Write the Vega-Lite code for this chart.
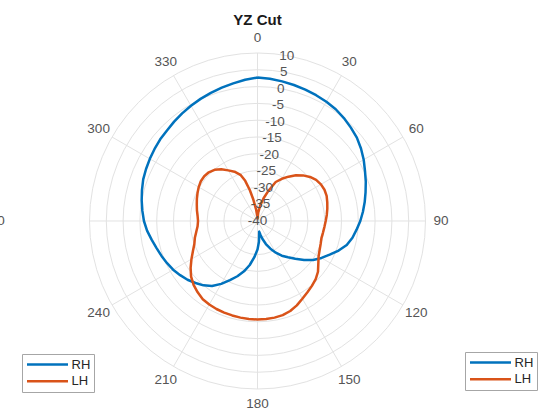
{
  "$schema": "https://vega.github.io/schema/vega-lite/v6.json",
  "width": 541,
  "height": 414,
  "autosize": "none",
  "padding": 0,
  "background": "white",
  "config": {
    "view": {"stroke": null},
    "font": "Liberation Sans",
    "legend": {
      "title": null,
      "symbolType": "stroke",
      "symbolSize": 1681,
      "symbolStrokeWidth": 2.5,
      "clipHeight": 14,
      "rowPadding": 2.7,
      "padding": 3.5,
      "labelOffset": 2,
      "labelFont": "Liberation Sans",
      "labelFontSize": 13,
      "labelColor": "#262626",
      "strokeColor": "#a6a6a6",
      "fillColor": "white",
      "cornerRadius": 0
    }
  },
  "datasets": {
    "pattern": [
      {"series": "RH", "angle": 0, "dB": 2.7}, {"series": "RH", "angle": 5, "dB": 2.5}, {"series": "RH", "angle": 10, "dB": 2.2}, {"series": "RH", "angle": 15, "dB": 1.9}, {"series": "RH", "angle": 20, "dB": 1.6}, {"series": "RH", "angle": 25, "dB": 1.3}, {"series": "RH", "angle": 30, "dB": 1.0}, {"series": "RH", "angle": 35, "dB": 0.6}, {"series": "RH", "angle": 40, "dB": 0.0}, {"series": "RH", "angle": 45, "dB": -0.7}, {"series": "RH", "angle": 50, "dB": -1.4}, {"series": "RH", "angle": 55, "dB": -2.4}, {"series": "RH", "angle": 60, "dB": -3.5}, {"series": "RH", "angle": 65, "dB": -4.7}, {"series": "RH", "angle": 70, "dB": -5.7}, {"series": "RH", "angle": 75, "dB": -6.7}, {"series": "RH", "angle": 80, "dB": -7.6}, {"series": "RH", "angle": 85, "dB": -8.5}, {"series": "RH", "angle": 90, "dB": -9.4}, {"series": "RH", "angle": 95, "dB": -10.4}, {"series": "RH", "angle": 100, "dB": -11.3}, {"series": "RH", "angle": 105, "dB": -12.5}, {"series": "RH", "angle": 110, "dB": -14.3}, {"series": "RH", "angle": 115, "dB": -16.3}, {"series": "RH", "angle": 120, "dB": -18.0}, {"series": "RH", "angle": 125, "dB": -19.8}, {"series": "RH", "angle": 130, "dB": -21.9}, {"series": "RH", "angle": 135, "dB": -24.1}, {"series": "RH", "angle": 140, "dB": -25.9}, {"series": "RH", "angle": 145, "dB": -27.4}, {"series": "RH", "angle": 150, "dB": -29.1}, {"series": "RH", "angle": 155, "dB": -30.9}, {"series": "RH", "angle": 160, "dB": -32.7}, {"series": "RH", "angle": 165, "dB": -34.6}, {"series": "RH", "angle": 168, "dB": -35.8}, {"series": "RH", "angle": 171, "dB": -36.8}, {"series": "RH", "angle": 173, "dB": -36.0}, {"series": "RH", "angle": 176, "dB": -33.8}, {"series": "RH", "angle": 180, "dB": -31.5}, {"series": "RH", "angle": 185, "dB": -29.2}, {"series": "RH", "angle": 190, "dB": -26.7}, {"series": "RH", "angle": 195, "dB": -24.5}, {"series": "RH", "angle": 200, "dB": -22.5}, {"series": "RH", "angle": 205, "dB": -20.6}, {"series": "RH", "angle": 210, "dB": -18.4}, {"series": "RH", "angle": 215, "dB": -16.4}, {"series": "RH", "angle": 220, "dB": -15.0}, {"series": "RH", "angle": 225, "dB": -13.9}, {"series": "RH", "angle": 230, "dB": -12.8}, {"series": "RH", "angle": 235, "dB": -11.9}, {"series": "RH", "angle": 240, "dB": -11.0}, {"series": "RH", "angle": 245, "dB": -10.3}, {"series": "RH", "angle": 250, "dB": -9.6}, {"series": "RH", "angle": 255, "dB": -8.9}, {"series": "RH", "angle": 260, "dB": -8.0}, {"series": "RH", "angle": 265, "dB": -7.0}, {"series": "RH", "angle": 270, "dB": -6.2}, {"series": "RH", "angle": 275, "dB": -5.6}, {"series": "RH", "angle": 280, "dB": -5.0}, {"series": "RH", "angle": 285, "dB": -4.4}, {"series": "RH", "angle": 290, "dB": -3.8}, {"series": "RH", "angle": 295, "dB": -3.4}, {"series": "RH", "angle": 300, "dB": -3.0}, {"series": "RH", "angle": 305, "dB": -2.6}, {"series": "RH", "angle": 310, "dB": -2.2}, {"series": "RH", "angle": 315, "dB": -1.9}, {"series": "RH", "angle": 320, "dB": -1.4}, {"series": "RH", "angle": 325, "dB": -0.9}, {"series": "RH", "angle": 330, "dB": -0.4}, {"series": "RH", "angle": 335, "dB": 0.1}, {"series": "RH", "angle": 340, "dB": 0.6}, {"series": "RH", "angle": 345, "dB": 1.1}, {"series": "RH", "angle": 350, "dB": 1.6}, {"series": "RH", "angle": 355, "dB": 2.2}, {"series": "RH", "angle": 360, "dB": 2.7},
      {"series": "LH", "angle": 0, "dB": -39.5}, {"series": "LH", "angle": 5, "dB": -37.5}, {"series": "LH", "angle": 10, "dB": -35.3}, {"series": "LH", "angle": 15, "dB": -33.0}, {"series": "LH", "angle": 20, "dB": -30.4}, {"series": "LH", "angle": 25, "dB": -27.2}, {"series": "LH", "angle": 30, "dB": -25.5}, {"series": "LH", "angle": 35, "dB": -23.9}, {"series": "LH", "angle": 40, "dB": -22.2}, {"series": "LH", "angle": 45, "dB": -20.8}, {"series": "LH", "angle": 50, "dB": -19.6}, {"series": "LH", "angle": 55, "dB": -18.7}, {"series": "LH", "angle": 60, "dB": -18.2}, {"series": "LH", "angle": 65, "dB": -18.0}, {"series": "LH", "angle": 70, "dB": -18.1}, {"series": "LH", "angle": 75, "dB": -18.5}, {"series": "LH", "angle": 80, "dB": -18.9}, {"series": "LH", "angle": 85, "dB": -19.3}, {"series": "LH", "angle": 90, "dB": -19.7}, {"series": "LH", "angle": 95, "dB": -20.0}, {"series": "LH", "angle": 100, "dB": -20.2}, {"series": "LH", "angle": 105, "dB": -20.3}, {"series": "LH", "angle": 110, "dB": -20.0}, {"series": "LH", "angle": 115, "dB": -19.6}, {"series": "LH", "angle": 120, "dB": -19.0}, {"series": "LH", "angle": 125, "dB": -17.9}, {"series": "LH", "angle": 130, "dB": -16.5}, {"series": "LH", "angle": 135, "dB": -15.5}, {"series": "LH", "angle": 140, "dB": -14.8}, {"series": "LH", "angle": 145, "dB": -14.1}, {"series": "LH", "angle": 150, "dB": -13.3}, {"series": "LH", "angle": 155, "dB": -12.3}, {"series": "LH", "angle": 160, "dB": -11.5}, {"series": "LH", "angle": 165, "dB": -11.0}, {"series": "LH", "angle": 170, "dB": -10.8}, {"series": "LH", "angle": 175, "dB": -10.7}, {"series": "LH", "angle": 180, "dB": -10.7}, {"series": "LH", "angle": 185, "dB": -10.7}, {"series": "LH", "angle": 190, "dB": -10.8}, {"series": "LH", "angle": 195, "dB": -10.9}, {"series": "LH", "angle": 200, "dB": -11.0}, {"series": "LH", "angle": 205, "dB": -11.1}, {"series": "LH", "angle": 210, "dB": -11.3}, {"series": "LH", "angle": 215, "dB": -11.6}, {"series": "LH", "angle": 220, "dB": -12.3}, {"series": "LH", "angle": 225, "dB": -13.1}, {"series": "LH", "angle": 230, "dB": -14.2}, {"series": "LH", "angle": 235, "dB": -15.7}, {"series": "LH", "angle": 240, "dB": -17.3}, {"series": "LH", "angle": 245, "dB": -18.8}, {"series": "LH", "angle": 250, "dB": -20.0}, {"series": "LH", "angle": 255, "dB": -20.7}, {"series": "LH", "angle": 260, "dB": -21.5}, {"series": "LH", "angle": 265, "dB": -22.1}, {"series": "LH", "angle": 270, "dB": -22.3}, {"series": "LH", "angle": 275, "dB": -22.1}, {"series": "LH", "angle": 280, "dB": -21.7}, {"series": "LH", "angle": 285, "dB": -21.3}, {"series": "LH", "angle": 290, "dB": -20.8}, {"series": "LH", "angle": 295, "dB": -20.3}, {"series": "LH", "angle": 300, "dB": -19.8}, {"series": "LH", "angle": 305, "dB": -19.4}, {"series": "LH", "angle": 310, "dB": -19.3}, {"series": "LH", "angle": 315, "dB": -19.5}, {"series": "LH", "angle": 320, "dB": -20.1}, {"series": "LH", "angle": 325, "dB": -21.2}, {"series": "LH", "angle": 330, "dB": -22.6}, {"series": "LH", "angle": 335, "dB": -23.8}, {"series": "LH", "angle": 340, "dB": -25.5}, {"series": "LH", "angle": 343, "dB": -27.5}, {"series": "LH", "angle": 346, "dB": -30.5}, {"series": "LH", "angle": 349, "dB": -33.5}, {"series": "LH", "angle": 353, "dB": -36.5}, {"series": "LH", "angle": 357, "dB": -38.5}, {"series": "LH", "angle": 360, "dB": -39.5}
    ],
    "levels": [
      {"level": -40}, {"level": -35}, {"level": -30}, {"level": -25}, {"level": -20}, {"level": -15}, {"level": -10}, {"level": -5}, {"level": 0}, {"level": 5}, {"level": 10}
    ],
    "spokes": [
      {"angle": 0}, {"angle": 30}, {"angle": 60}, {"angle": 90}, {"angle": 120}, {"angle": 150}, {"angle": 180}, {"angle": 210}, {"angle": 240}, {"angle": 270}, {"angle": 300}, {"angle": 330}
    ],
    "titles": [{"text": "YZ Cut"}]
  },
  "layer": [
    {
      "data": {"name": "levels"},
      "transform": [
        {"filter": "datum.level > -40"},
        {"calculate": "datum.level + 40", "as": "r"},
        {"calculate": "0", "as": "cx"},
        {"calculate": "0", "as": "cy"}
      ],
      "mark": {"type": "point", "shape": "circle", "filled": false, "stroke": "#e2e2e2", "strokeWidth": 1, "opacity": 1},
      "encoding": {
        "x": {"field": "cx", "type": "quantitative", "scale": {"domain": [-76.64, 84.38], "nice": false, "zero": false}, "axis": null},
        "y": {"field": "cy", "type": "quantitative", "scale": {"domain": [-57.44, 65.77], "nice": false, "zero": false}, "axis": null},
        "size": {"field": "r", "type": "quantitative", "scale": {"type": "pow", "exponent": 2, "domain": [0, 50], "range": [0, 112896], "zero": true, "nice": false}, "legend": null}
      }
    },
    {
      "data": {"name": "spokes"},
      "transform": [
        {"calculate": "0", "as": "cx"},
        {"calculate": "0", "as": "cy"},
        {"calculate": "50 * sin(datum.angle * PI / 180)", "as": "xe"},
        {"calculate": "50 * cos(datum.angle * PI / 180)", "as": "ye"}
      ],
      "mark": {"type": "rule", "stroke": "#e2e2e2", "strokeWidth": 1},
      "encoding": {
        "x": {"field": "cx", "type": "quantitative", "scale": {"domain": [-76.64, 84.38], "nice": false, "zero": false}, "axis": null},
        "y": {"field": "cy", "type": "quantitative", "scale": {"domain": [-57.44, 65.77], "nice": false, "zero": false}, "axis": null},
        "x2": {"field": "xe"},
        "y2": {"field": "ye"}
      }
    },
    {
      "data": {"name": "pattern"},
      "transform": [
        {"calculate": "(datum.dB + 40) * sin(datum.angle * PI / 180)", "as": "px"},
        {"calculate": "(datum.dB + 40) * cos(datum.angle * PI / 180)", "as": "py"}
      ],
      "mark": {"type": "line", "strokeWidth": 2.5, "strokeJoin": "round"},
      "encoding": {
        "x": {"field": "px", "type": "quantitative", "scale": {"domain": [-76.64, 84.38], "nice": false, "zero": false}, "axis": null},
        "y": {"field": "py", "type": "quantitative", "scale": {"domain": [-57.44, 65.77], "nice": false, "zero": false}, "axis": null},
        "order": {"field": "angle", "type": "quantitative"},
        "color": {
          "field": "series", "type": "nominal",
          "scale": {"domain": ["RH", "LH"], "range": ["#0072BD", "#D95319"]},
          "legend": {"orient": "bottom-left", "offset": 22}
        }
      }
    },
    {
      "data": {"name": "pattern"},
      "transform": [
        {"filter": "datum.series == 'none'"},
        {"calculate": "(datum.dB + 40) * sin(datum.angle * PI / 180)", "as": "px"},
        {"calculate": "(datum.dB + 40) * cos(datum.angle * PI / 180)", "as": "py"}
      ],
      "mark": {"type": "line", "strokeWidth": 2.5},
      "encoding": {
        "x": {"field": "px", "type": "quantitative", "scale": {"domain": [-76.64, 84.38], "nice": false, "zero": false}, "axis": null},
        "y": {"field": "py", "type": "quantitative", "scale": {"domain": [-57.44, 65.77], "nice": false, "zero": false}, "axis": null},
        "stroke": {
          "field": "series", "type": "nominal",
          "scale": {"domain": ["RH", "LH"], "range": ["#0072BD", "#D95319"]},
          "legend": {"orient": "none", "legendX": 465, "legendY": 352}
        }
      }
    },
    {
      "data": {"name": "levels"},
      "transform": [
        {"calculate": "(datum.level + 40) * sin(10 * PI / 180)", "as": "px"},
        {"calculate": "(datum.level + 40) * cos(10 * PI / 180)", "as": "py"},
        {"calculate": "'' + datum.level", "as": "label"}
      ],
      "mark": {"type": "text", "align": "center", "baseline": "middle", "fontSize": 13.5, "font": "Liberation Sans", "fill": "#555555"},
      "encoding": {
        "x": {"field": "px", "type": "quantitative", "scale": {"domain": [-76.64, 84.38], "nice": false, "zero": false}, "axis": null},
        "y": {"field": "py", "type": "quantitative", "scale": {"domain": [-57.44, 65.77], "nice": false, "zero": false}, "axis": null},
        "text": {"field": "label", "type": "nominal"}
      }
    },
    {
      "data": {"name": "spokes"},
      "transform": [
        {"calculate": "datum.angle == 270 ? 78.6 : 54.6", "as": "lr"},
        {"calculate": "datum.lr * sin(datum.angle * PI / 180)", "as": "px"},
        {"calculate": "datum.lr * cos(datum.angle * PI / 180)", "as": "py"},
        {"calculate": "'' + datum.angle", "as": "label"}
      ],
      "mark": {"type": "text", "align": "center", "baseline": "middle", "fontSize": 13.5, "font": "Liberation Sans", "fill": "#555555"},
      "encoding": {
        "x": {"field": "px", "type": "quantitative", "scale": {"domain": [-76.64, 84.38], "nice": false, "zero": false}, "axis": null},
        "y": {"field": "py", "type": "quantitative", "scale": {"domain": [-57.44, 65.77], "nice": false, "zero": false}, "axis": null},
        "text": {"field": "label", "type": "nominal"}
      }
    },
    {
      "data": {"name": "titles"},
      "transform": [
        {"calculate": "0", "as": "tx"},
        {"calculate": "59.8", "as": "ty"}
      ],
      "mark": {"type": "text", "align": "center", "baseline": "middle", "fontSize": 15, "fontWeight": "bold", "font": "Liberation Sans", "fill": "#1a1a1a"},
      "encoding": {
        "x": {"field": "tx", "type": "quantitative", "scale": {"domain": [-76.64, 84.38], "nice": false, "zero": false}, "axis": null},
        "y": {"field": "ty", "type": "quantitative", "scale": {"domain": [-57.44, 65.77], "nice": false, "zero": false}, "axis": null},
        "text": {"field": "text", "type": "nominal"}
      }
    }
  ]
}
